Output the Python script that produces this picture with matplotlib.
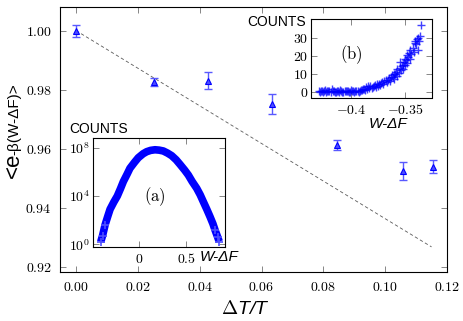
import matplotlib
matplotlib.use('Agg')
import matplotlib.pyplot as plt
from matplotlib.ticker import FuncFormatter, NullLocator
import numpy as np

plt.rcParams['mathtext.fontset'] = 'cm'
plt.rcParams['font.family'] = ['Liberation Sans', 'DejaVu Sans']

# main data: <exp(-beta(W-dF))> vs dT/T
dt = [0.0, 0.0252, 0.0426, 0.0635, 0.0845, 0.1058, 0.1155]
avg = [1.000, 0.9827, 0.9830, 0.9753, 0.9614, 0.9525, 0.9539]
err = [0.0020, 0.0014, 0.0029, 0.0034, 0.0017, 0.0032, 0.0022]

fit_x = [0.0, 0.115]
fit_y = [1.0, 0.9268]

# inset (a): histogram of W-dF, log10 of counts
a_x = [-0.409, -0.39, -0.363, -0.335, -0.310, -0.27, -0.233, -0.20, -0.169,
       -0.13, -0.099, -0.05, -0.011, 0.04, 0.078, 0.12, 0.166, 0.21, 0.254,
       0.30, 0.343, 0.39, 0.431, 0.48, 0.519, 0.56, 0.608, 0.645, 0.678,
       0.715, 0.749, 0.78, 0.802, 0.83, 0.847]
a_logc = [0.2, 0.7, 1.6, 2.3, 2.9, 3.5, 4.0, 4.6, 5.2,
          5.8, 6.3, 6.8, 7.17, 7.5, 7.67, 7.78, 7.83, 7.8, 7.73,
          7.55, 7.34, 7.0, 6.62, 6.15, 5.74, 5.2, 4.64, 4.1, 3.53,
          2.9, 2.29, 1.7, 1.19, 0.6, 0.22]

# inset (b): tail of the histogram (linear counts)
b_x = [-0.430, -0.429, -0.428, -0.427, -0.426, -0.425, -0.424, -0.423, -0.422,
       -0.421, -0.420, -0.419, -0.418, -0.417, -0.416, -0.415, -0.414, -0.413,
       -0.412, -0.411, -0.410, -0.409, -0.408, -0.407, -0.406, -0.405, -0.404,
       -0.403, -0.402, -0.401, -0.400, -0.399, -0.398, -0.397, -0.396, -0.395,
       -0.394, -0.393, -0.392, -0.391, -0.390, -0.389, -0.388, -0.387,
       -0.386, -0.385, -0.384, -0.383, -0.382, -0.381, -0.380, -0.379, -0.378,
       -0.377, -0.376, -0.375, -0.374, -0.373, -0.372, -0.371, -0.370, -0.369,
       -0.368, -0.367, -0.366, -0.365, -0.364, -0.363, -0.362, -0.361, -0.360,
       -0.360, -0.359, -0.358, -0.357, -0.357, -0.356, -0.355, -0.355, -0.354,
       -0.353, -0.352, -0.352, -0.351, -0.350, -0.350, -0.349, -0.348, -0.348,
       -0.347, -0.346, -0.345, -0.345, -0.344, -0.343, -0.342, -0.341, -0.341,
       -0.340, -0.339, -0.338, -0.338, -0.337, -0.336, -0.335]
b_c = [0.2, -0.3, 0.5, 0.1, -0.3, 0.6, 0.8, 0.0, 0.1,
       0.4, 0.6, -0.2, 1.2, 0.5, 0.3, -0.1, -0.2, 0.3,
       0.4, 0.0, 0.9, 0.2, 0.0, -0.3, 0.5, 0.1, 0.2,
       0.6, -0.4, 0.0, 0.7, 0.2, 0.3, -0.1, 0.1, 0.5,
       0.6, 0.0, 0.2, 0.8, 0.9, 1.5, 1.4, 0.7,
       2.8, 1.5, 3.4, 2.0, 3.0, 1.8, 2.5, 3.2, 3.8,
       2.6, 4.0, 3.1, 4.5, 3.6, 4.7, 5.3, 4.2, 5.8,
       6.5, 5.1, 6.6, 7.4, 5.9, 8.0, 9.1, 8.4, 7.2,
       10.0, 9.6, 11.2, 8.8, 12.5, 10.5, 13.1, 16.5, 11.8,
       14.2, 15.0, 12.4, 16.8, 18.5, 14.6, 17.8, 20.5, 16.0,
       19.2, 21.6, 18.0, 23.5, 20.8, 24.4, 22.0, 27.0, 28.1,
       26.5, 29.2, 30.0, 23.0, 28.5, 31.0, 37.0]

W, H = 463, 321
fig = plt.figure(figsize=(W / 100, H / 100), dpi=100)


def box(l, t, r, b):
    return [l / W, 1 - b / H, (r - l) / W, (b - t) / H]


def style(ax, size=10):
    ax.tick_params(direction='in', top=True, right=True, length=4,
                   width=0.6, color='0.45', labelsize=size, pad=4)
    for s in ax.spines.values():
        s.set_linewidth(0.8)


def cm_fmt(fmt):
    def f(v, pos):
        return '$' + (fmt % v) + '$'
    return FuncFormatter(f)


# main axes
ax = fig.add_axes(box(60, 7, 447, 272))
style(ax)
ax.plot(fit_x, fit_y, color='0.35', lw=0.6, ls=(0, (4, 3)))
ax.errorbar(dt, avg, yerr=err, fmt='none', ecolor=(0.35, 0.35, 1.0),
            elinewidth=1.0, capsize=3, capthick=1.0)
ax.plot(dt, avg, ls='none', marker='^', ms=5, color='blue',
        markerfacecolor=(0.3, 0.3, 1.0), markeredgewidth=0.8)
ax.set_xlim(-0.0052, 0.12)
ax.set_ylim(0.9183, 1.008)
ax.set_xticks([0.0, 0.02, 0.04, 0.06, 0.08, 0.10, 0.12])
ax.set_yticks([0.92, 0.94, 0.96, 0.98, 1.00])
ax.xaxis.set_major_formatter(cm_fmt('%.2f'))
ax.yaxis.set_major_formatter(cm_fmt('%.2f'))
ax.tick_params(axis='y', pad=6)
ax.tick_params(axis='x', pad=6)

fig.text(245 / W, 1 - 309 / H, r'$\Delta$' + 'T/T', fontsize=14,
         style='italic', ha='center', va='center')
fig.text(13.5 / W, 1 - 178 / H, '<e', fontsize=16, rotation=90,
         ha='center', va='bottom')
fig.text(14.5 / W, 1 - 155 / H, '-\u03b2(W-\u0394F)>', fontsize=11,
         rotation=90, ha='center', va='bottom')

# inset (a)
axa = fig.add_axes(box(92.7, 138.3, 225, 246.7))
style(axa)
axa.plot(a_x, [10 ** v for v in a_logc], color='blue', lw=5.5,
         solid_capstyle='butt')
axa.plot(a_x[:3] + a_x[-3:], [10 ** v for v in a_logc[:3] + a_logc[-3:]],
         ls='none', marker='+', ms=6, mew=1.2, color=(0.3, 0.3, 1.0))
axa.set_yscale('log')
axa.set_xlim(-0.494, 0.908)
axa.set_ylim(10 ** -0.2, 10 ** 8.78)
axa.set_xticks([0, 0.5])
axa.set_yticks([1, 1e4, 1e8])
axa.yaxis.set_minor_locator(NullLocator())
axa.xaxis.set_major_formatter(FuncFormatter(lambda v, p: '$%g$' % v))
axa.yaxis.set_major_formatter(
    FuncFormatter(lambda v, p: '$10^{%d}$' % round(np.log10(v))))
axa.tick_params(axis='y', pad=2)
axa.text(0.47, 0.46, r'$\mathrm{(a)}$', transform=axa.transAxes,
         fontsize=12, ha='center', va='center')
axa.text(0.269, 1.09, 'COUNTS', transform=axa.transAxes, fontsize=10,
         ha='right', va='center')
axa.text(0.81, -0.092, 'W-\u0394F', transform=axa.transAxes, fontsize=11,
         style='italic', ha='left', va='center')

# inset (b)
axb = fig.add_axes(box(311.3, 19, 432, 97.5))
style(axb)
axb.plot(b_x, b_c, ls='none', marker='+', ms=6, mew=1.0,
         color='blue', alpha=0.75)
axb.set_xlim(-0.4368, -0.325)
axb.set_ylim(-3.3, 40.6)
axb.set_xticks([-0.4, -0.35])
axb.set_yticks([0, 10, 20, 30])
axb.xaxis.set_major_formatter(FuncFormatter(lambda v, p: '$%g$' % v))
axb.yaxis.set_major_formatter(FuncFormatter(lambda v, p: '$%d$' % v))
axb.tick_params(axis='y', pad=2)
axb.text(0.33, 0.54, r'$\mathrm{(b)}$', transform=axb.transAxes,
         fontsize=12, ha='center', va='center')
axb.text(-0.044, 0.96, 'COUNTS', transform=axb.transAxes, fontsize=10,
         ha='right', va='center')
axb.text(0.635, -0.34, 'W-\u0394F', transform=axb.transAxes, fontsize=11,
         style='italic', ha='center', va='center')

fig.savefig('out.png', dpi=100)
